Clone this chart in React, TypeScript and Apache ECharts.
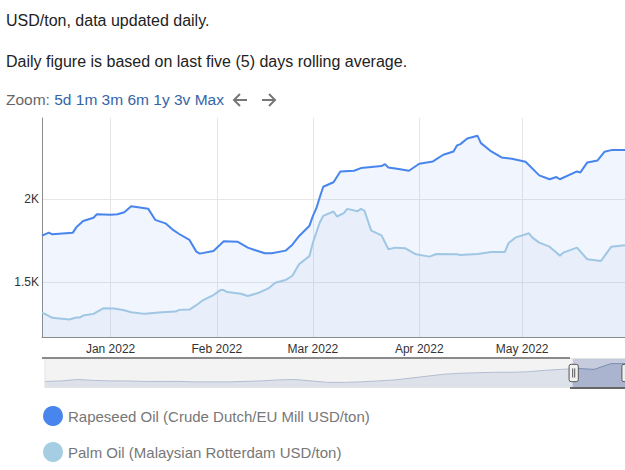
import React, { useEffect, useRef } from "react";
import * as echarts from "echarts";

const FONT = '"Liberation Sans", Arial, sans-serif';
const MONTHS = ["Jan", "Feb", "Mar", "Apr", "May", "Jun", "Jul", "Aug", "Sep", "Oct", "Nov", "Dec"];

const rapeseedName = "Rapeseed Oil (Crude Dutch/EU Mill USD/ton)";
const palmName = "Palm Oil (Malaysian Rotterdam USD/ton)";

const rapeseedDates = [
  "2021-12-12", "2021-12-14", "2021-12-15", "2021-12-17", "2021-12-21", "2021-12-22", "2021-12-24",
  "2021-12-27", "2021-12-28", "2022-01-01", "2022-01-03", "2022-01-05", "2022-01-07", "2022-01-09",
  "2022-01-12", "2022-01-14", "2022-01-17", "2022-01-19", "2022-01-21", "2022-01-24", "2022-01-26",
  "2022-01-27", "2022-01-31", "2022-02-03", "2022-02-07", "2022-02-10", "2022-02-12", "2022-02-15",
  "2022-02-17", "2022-02-21", "2022-02-23", "2022-02-25", "2022-02-28", "2022-03-01", "2022-03-02",
  "2022-03-03", "2022-03-04", "2022-03-07", "2022-03-09", "2022-03-13", "2022-03-15", "2022-03-18",
  "2022-03-21", "2022-03-22", "2022-03-23", "2022-03-26", "2022-03-29", "2022-04-01", "2022-04-05",
  "2022-04-08", "2022-04-11", "2022-04-12", "2022-04-13", "2022-04-15", "2022-04-18", "2022-04-19",
  "2022-04-22", "2022-04-25", "2022-04-28", "2022-05-02", "2022-05-06", "2022-05-09", "2022-05-11",
  "2022-05-12", "2022-05-17", "2022-05-18", "2022-05-20", "2022-05-23", "2022-05-25", "2022-05-27",
  "2022-05-31",
];
const rapeseedValues = [
  1781, 1799, 1789, 1793, 1799, 1831, 1869,
  1889, 1910, 1906, 1910, 1922, 1958, 1952,
  1942, 1876, 1855, 1819, 1791, 1755, 1685,
  1673, 1689, 1747, 1745, 1709, 1695, 1675,
  1675, 1691, 1727, 1779, 1841, 1900, 1946,
  2012, 2075, 2102, 2167, 2171, 2187, 2193,
  2199, 2211, 2191, 2181, 2171, 2213, 2227,
  2267, 2287, 2323, 2331, 2365, 2381, 2337,
  2287, 2251, 2243, 2225, 2143, 2120, 2133,
  2120, 2167, 2161, 2221, 2233, 2285, 2295,
  2295,
];

const palmDates = [
  "2021-12-12", "2021-12-13", "2021-12-15", "2021-12-17", "2021-12-20", "2021-12-22", "2021-12-23",
  "2021-12-24", "2021-12-27", "2021-12-30", "2022-01-02", "2022-01-05", "2022-01-07", "2022-01-11",
  "2022-01-16", "2022-01-20", "2022-01-21", "2022-01-24", "2022-01-26", "2022-01-28", "2022-01-31",
  "2022-02-02", "2022-02-03", "2022-02-04", "2022-02-08", "2022-02-10", "2022-02-13", "2022-02-16",
  "2022-02-18", "2022-02-21", "2022-02-23", "2022-02-25", "2022-02-28", "2022-03-01", "2022-03-02",
  "2022-03-03", "2022-03-04", "2022-03-07", "2022-03-08", "2022-03-10", "2022-03-11", "2022-03-14",
  "2022-03-15", "2022-03-16", "2022-03-18", "2022-03-21", "2022-03-23", "2022-03-25", "2022-03-28",
  "2022-03-31", "2022-04-04", "2022-04-06", "2022-04-12", "2022-04-13", "2022-04-18", "2022-04-22",
  "2022-04-26", "2022-04-27", "2022-04-29", "2022-05-03", "2022-05-04", "2022-05-06", "2022-05-09",
  "2022-05-12", "2022-05-13", "2022-05-17", "2022-05-20", "2022-05-24", "2022-05-27", "2022-05-31",
];
const palmValues = [
  1319, 1309, 1287, 1283, 1277, 1289, 1289,
  1301, 1311, 1345, 1343, 1333, 1321, 1311,
  1321, 1325, 1335, 1337, 1363, 1394, 1424,
  1454, 1454, 1442, 1432, 1418, 1436, 1464,
  1498, 1514, 1540, 1610, 1659, 1740, 1800,
  1860, 1900, 1926, 1896, 1916, 1942, 1928,
  1942, 1932, 1811, 1783, 1699, 1709, 1705,
  1669, 1655, 1671, 1669, 1665, 1671, 1683,
  1683, 1735, 1769, 1795, 1769, 1739, 1715,
  1661, 1679, 1709, 1639, 1629, 1715, 1723,
];

// long history shown in the navigator (USD/ton, approximate)
const navigatorValues = [
  911, 943, 1038, 975, 943, 943, 911, 911, 911, 880, 880, 880,
  911, 943, 1006, 1038, 943, 848, 848, 880, 943, 1006, 1133, 1260,
  1386, 1450, 1481, 1513, 1513, 1544, 1639, 1703, 1766, 1703, 2083, 2083,
];

const yTicksLabel = (v: number) => `${v / 1000}K`;

export default function App() {
  const ref = useRef<HTMLDivElement>(null);
  useEffect(() => {
    document.body.style.margin = "0";
    if (!ref.current) return;
    const chart = echarts.init(ref.current, undefined, { renderer: "svg" });
    const navLabels = navigatorValues.map((_, i) => String(i));
    const legendBase = {
      orient: "horizontal",
      left: 43,
      padding: 0,
      itemWidth: 20,
      itemHeight: 20,
      icon: "circle",
      textStyle: { color: "#777", fontSize: 15, fontFamily: FONT },
    };
    const arrowStyle = { stroke: "#777", lineWidth: 2, fill: "none" };
    const option: any = {
      animation: false,
      textStyle: { fontFamily: FONT },
      graphic: [
        {
          type: "text",
          left: 6,
          top: 12,
          style: { text: "USD/ton, data updated daily.", fontSize: 16, fontFamily: FONT, fill: "#222" },
        },
        {
          type: "text",
          left: 6,
          top: 53,
          style: {
            text: "Daily figure is based on last five (5) days rolling average.",
            fontSize: 16,
            fontFamily: FONT,
            fill: "#222",
          },
        },
        {
          type: "text",
          left: 6,
          top: 91,
          style: {
            text: "{g|Zoom:} {b|5d 1m 3m 6m 1y 3v Max}",
            fontSize: 15.5,
            fontFamily: FONT,
            rich: {
              g: { fill: "#666", fontSize: 15.5, fontFamily: FONT },
              b: { fill: "#3465a8", fontSize: 15.5, fontFamily: FONT },
            },
          },
        },
        { type: "polyline", shape: { points: [[234, 100], [247, 100]] }, style: arrowStyle },
        { type: "polyline", shape: { points: [[240, 94], [234, 100], [240, 106]] }, style: arrowStyle },
        { type: "polyline", shape: { points: [[262, 100], [275, 100]] }, style: arrowStyle },
        { type: "polyline", shape: { points: [[269, 94], [275, 100], [269, 106]] }, style: arrowStyle },
        {
          type: "polyline",
          shape: { points: [[42, 358], [570, 358]] },
          style: { stroke: "#8a8a8a", lineWidth: 2, fill: "none" },
          z: 200,
        },
        {
          type: "polyline",
          shape: { points: [[570, 388], [625, 388]] },
          style: { stroke: "#666", lineWidth: 2, fill: "none" },
          z: 200,
        },
      ],
      legend: [
        { ...legendBase, top: 406, data: [rapeseedName] },
        { ...legendBase, top: 442, data: [palmName] },
      ],
      grid: [
        { left: 42, top: 118, width: 583, height: 219, containLabel: false },
        { left: 42, top: 358, width: 583, height: 30, show: false },
      ],
      xAxis: [
        {
          type: "time",
          gridIndex: 0,
          min: "2021-12-12",
          max: "2022-05-31",
          minInterval: 28 * 86400000,
          axisLine: { show: true, lineStyle: { color: "#8c8c8c", width: 1 } },
          axisTick: { show: false },
          axisLabel: {
            color: "#333",
            fontSize: 12,
            fontFamily: FONT,
            margin: 6,
            showMinLabel: false,
            showMaxLabel: false,
            formatter: (val: number) => {
              const d = new Date(val);
              return `${MONTHS[d.getMonth()]} ${d.getFullYear()}`;
            },
          },
          splitLine: { show: true, showMinLine: false, showMaxLine: false, lineStyle: { color: "#e6e6e6" } },
        },
        {
          type: "category",
          gridIndex: 1,
          data: navLabels,
          boundaryGap: false,
          show: false,
        },
      ],
      yAxis: [
        {
          type: "value",
          gridIndex: 0,
          min: 1172,
          max: 2488,
          splitNumber: 3,
          axisLine: { show: true, lineStyle: { color: "#8c8c8c", width: 1 } },
          axisTick: { show: false },
          axisLabel: {
            color: "#333",
            fontSize: 12,
            fontFamily: FONT,
            margin: 3,
            showMinLabel: false,
            showMaxLabel: false,
            formatter: yTicksLabel,
          },
          splitLine: { show: true, showMinLine: false, showMaxLine: false, lineStyle: { color: "#e6e6e6" } },
        },
        { type: "value", gridIndex: 1, show: false },
      ],
      dataZoom: [
        {
          type: "slider",
          xAxisIndex: 1,
          left: 42,
          width: 583,
          top: 358,
          height: 30,
          start: 90.6,
          end: 100,
          showDetail: false,
          showDataShadow: true,
          brushSelect: false,
          moveHandleSize: 0,
          backgroundColor: "#f3f3f3",
          borderColor: "#e4e4e4",
          fillerColor: "rgba(110,130,180,0.34)",
          dataBackground: {
            lineStyle: { color: "#b3bdd1", width: 1, opacity: 1 },
            areaStyle: { color: "#dde1e9", opacity: 1 },
          },
          selectedDataBackground: {
            lineStyle: { color: "#7f90b2", width: 1, opacity: 1 },
            areaStyle: { color: "#c9cfdc", opacity: 1 },
          },
          handleIcon:
            "path://M2,0 L7,0 Q9,0 9,2 L9,15 Q9,17 7,17 L2,17 Q0,17 0,15 L0,2 Q0,0 2,0 Z M3.5,4 L3.5,13 M5.5,4 L5.5,13",
          handleSize: "58%",
          handleStyle: { color: "#f2f2f2", borderColor: "#555", borderWidth: 1 },
          emphasis: { handleStyle: { color: "#f2f2f2", borderColor: "#555", borderWidth: 1 } },
          textStyle: { color: "transparent" },
        },
      ],
      series: [
        {
          name: rapeseedName,
          type: "line",
          xAxisIndex: 0,
          yAxisIndex: 0,
          data: rapeseedDates.map((d, i) => [d, rapeseedValues[i]]),
          showSymbol: false,
          symbol: "none",
          itemStyle: { color: "#4885ed" },
          lineStyle: { color: "#4885ed", width: 2 },
          areaStyle: { color: "rgba(72,133,237,0.11)", origin: "start" },
          z: 3,
        },
        {
          name: palmName,
          type: "line",
          xAxisIndex: 0,
          yAxisIndex: 0,
          data: palmDates.map((d, i) => [d, palmValues[i]]),
          showSymbol: false,
          symbol: "none",
          itemStyle: { color: "#a6cee3" },
          lineStyle: { color: "#a6cee3", width: 2 },
          areaStyle: { color: "rgba(150,185,225,0.13)", origin: "start" },
          z: 2,
        },
        {
          name: "navigator",
          type: "line",
          xAxisIndex: 1,
          yAxisIndex: 1,
          data: navigatorValues,
          showSymbol: false,
          symbol: "none",
          silent: true,
          lineStyle: { opacity: 0 },
          itemStyle: { opacity: 0 },
        },
      ],
    };
    chart.setOption(option);
    return () => chart.dispose();
  }, []);
  return <div ref={ref} style={{ width: 625, height: 470 }} />;
}
